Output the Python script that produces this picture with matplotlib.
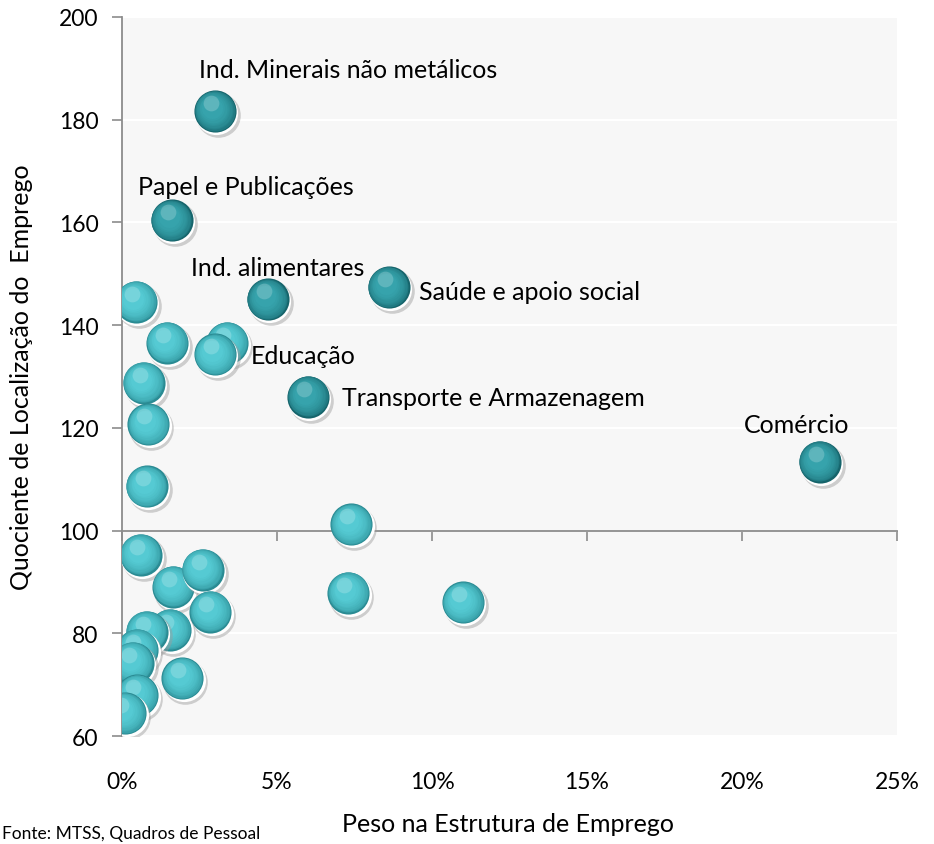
import numpy as np
import matplotlib.pyplot as plt
from matplotlib import transforms
from matplotlib.colors import to_rgb

# -----------------------------
# Data
# -----------------------------
setores = [
    "Ind. Minerais não metálicos", "Papel e Publicações", "Ind. alimentares",
    "Saúde e apoio social", "Transporte e Armazenagem", "Educação", "",
    "Comércio", "", "", "", "", "", "", "", "", "", "", "", "", "", "", "",
    "", "", "", "",
]
peso = [3.0, 1.6, 4.7, 8.6, 6.0, 3.4, 3.0, 22.5, 0.45, 1.45, 0.7, 0.85, 0.8,
        7.4, 0.6, 1.65, 2.6, 2.85, 7.3, 11.0, 1.55, 0.8, 0.5, 0.35, 1.95, 0.5,
        0.1]
quociente = [181.7, 160.4, 145.0, 147.4, 126.1, 136.6, 134.3, 113.4, 144.6,
             136.6, 128.8, 120.7, 108.6, 101.2, 95.3, 89.1, 92.4, 84.2, 87.9,
             86.0, 80.7, 80.3, 76.8, 74.3, 71.3, 68.0, 64.5]

xticks = [0, 5, 10, 15, 20, 25]
xticklabels = ["0%", "5%", "10%", "15%", "20%", "25%"]
yticks = [60, 80, 100, 120, 140, 160, 180, 200]

destaque = {"Ind. Minerais não metálicos", "Papel e Publicações",
            "Ind. alimentares", "Saúde e apoio social",
            "Transporte e Armazenagem", "Comércio"}

# label offsets (points) relative to the bubble
offsets = {
    "Ind. Minerais não metálicos": ((-11.5, 30), "left"),
    "Papel e Publicações": ((-24, 24.5), "left"),
    "Ind. alimentares": ((-55, 23), "left"),
    "Saúde e apoio social": ((22, -3), "left"),
    "Educação": ((16.5, -9), "left"),
    "Transporte e Armazenagem": ((24.5, -1), "left"),
    "Comércio": ((-16.5, 27), "center"),
}

plt.rcParams["font.family"] = ["Lato", "DejaVu Sans"]

fig = plt.figure(figsize=(9.34, 8.45), dpi=100)
ax = fig.add_axes([0.1306, 0.1278, 0.8298, 0.8509])
ax.set_facecolor("#f7f7f7")

ax.set_xlim(0, 25)
ax.set_ylim(60, 200)
ax.set_yticks(yticks)
ax.set_xticks(xticks)
ax.set_xticklabels([])
ax.yaxis.grid(True, color="white", linewidth=1.5)
ax.set_axisbelow(True)

for s in ["top", "right"]:
    ax.spines[s].set_visible(False)
ax.spines["bottom"].set_position(("data", 100))
ax.spines["bottom"].set_color("#8c8c8c")
ax.spines["left"].set_color("#8c8c8c")
ax.spines["bottom"].set_linewidth(1.3)
ax.spines["left"].set_linewidth(1.3)
ax.tick_params(axis="y", direction="out", length=7, width=1.2,
               color="#8c8c8c", labelsize=16.5, pad=10)
ax.tick_params(axis="x", direction="out", length=7, width=1.2,
               color="#8c8c8c")

# tick labels at the bottom of the plot
sec = ax.secondary_xaxis(0.0)
sec.set_xticks(xticks)
sec.set_xticklabels(xticklabels)
sec.tick_params(length=0, pad=25, labelsize=16.5)
sec.spines["bottom"].set_visible(False)

# -----------------------------
# Glossy bubbles
# -----------------------------
def mix(c1, c2, t):
    a, b = np.array(to_rgb(c1)), np.array(to_rgb(c2))
    return tuple(a + (b - a) * t)

size = 920
n_layers = 9
z = 3
for i in range(len(peso)):
    name = setores[i]
    if name in destaque:
        rim, core = "#16646b", "#36a3ac"
    else:
        rim, core = "#2a8b93", "#55cad3"
    # shadow and white halo
    sh = transforms.offset_copy(ax.transData, fig=fig, x=3, y=-4, units="dots")
    ax.scatter(peso[i], quociente[i], s=size * 1.12, color="#9a9a9a",
               alpha=0.45, linewidths=0, transform=sh, zorder=z)
    ha_ = transforms.offset_copy(ax.transData, fig=fig, x=1.5, y=-2, units="dots")
    ax.scatter(peso[i], quociente[i], s=size * 1.05, color="white",
               linewidths=0, transform=ha_, zorder=z + 0.1)
    for k in range(n_layers):
        t = k / (n_layers - 1)
        tr = transforms.offset_copy(ax.transData, fig=fig, x=-3 * t,
                                    y=3 * t, units="dots")
        ax.scatter(peso[i], quociente[i], s=size * (1 - 0.75 * t),
                   color=mix(rim, core, t ** 0.5), linewidths=0,
                   transform=tr, zorder=z + 0.2 + 0.05 * k)
    # soft highlight
    hl = transforms.offset_copy(ax.transData, fig=fig, x=-4, y=8, units="dots")
    ax.scatter(peso[i], quociente[i], s=size * 0.14, color="white",
               alpha=0.2, linewidths=0, transform=hl, zorder=z + 0.8)
    z += 1

for i, name in enumerate(setores):
    if name:
        (dx, dy), ha = offsets[name]
        ax.annotate(name, (peso[i], quociente[i]), xytext=(dx, dy),
                    textcoords="offset points", ha=ha, va="center",
                    fontsize=18, color="black", zorder=200)

ax.set_ylabel("Quociente de Localização do  Emprego", fontsize=18)
ax.yaxis.set_label_coords(-0.115, 0.5)
fig.text(0.544, 0.024, "Peso na Estrutura de Emprego", ha="center",
         va="center", fontsize=18)
fig.text(0.002, 0.013, "Fonte: MTSS, Quadros de Pessoal", ha="left",
         va="center", fontsize=12.5)

fig.savefig("out.png", dpi=100)
